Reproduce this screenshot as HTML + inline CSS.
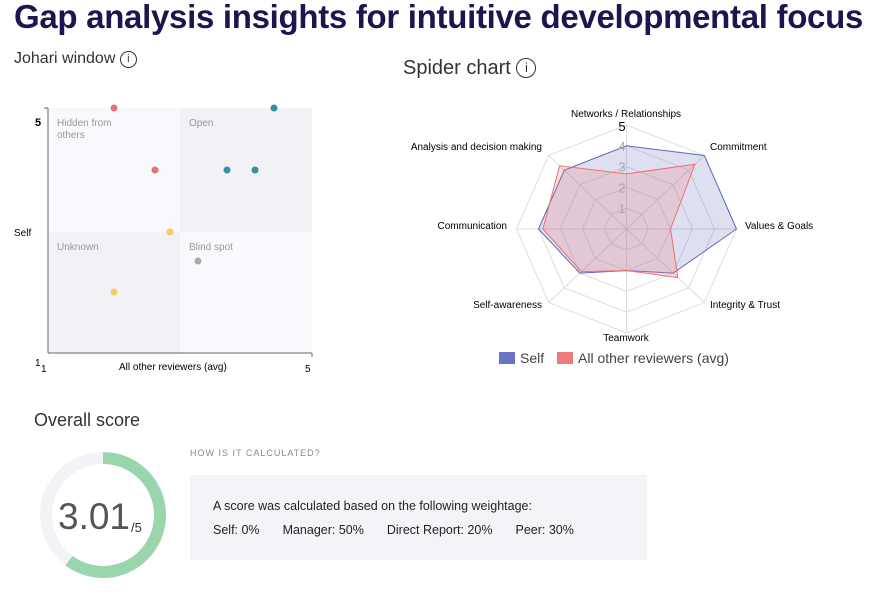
<!DOCTYPE html>
<html><head><style>
body{margin:0;width:880px;height:600px;background:#fff;font-family:"Liberation Sans",sans-serif;position:relative;overflow:hidden}
.t{position:absolute;white-space:nowrap}
</style></head><body>
<div class="t" style="left:14px;top:-2px;font-size:33px;font-weight:bold;color:#1e1550;letter-spacing:-0.3px">Gap analysis insights for intuitive developmental focus</div>
<div class="t" style="left:14px;top:50px;font-size:16px;color:#333">Johari window <span style="display:inline-block;width:15px;height:15px;border:1.5px solid #333;border-radius:50%;font-size:11px;text-align:center;line-height:15px;vertical-align:1px">i</span></div>
<div class="t" style="left:403px;top:57px;font-size:20px;color:#333">Spider chart <span style="display:inline-block;width:18px;height:18px;border:1.8px solid #333;border-radius:50%;font-size:13px;text-align:center;line-height:18px;vertical-align:2px">i</span></div>
<svg width="880" height="600" style="position:absolute;left:0;top:0" font-family="Liberation Sans, sans-serif">
<rect x="48" y="108" width="132" height="124" fill="#f8f9fc"/>
<rect x="180" y="108" width="132" height="124" fill="#f0f2f6"/>
<rect x="48" y="232" width="132" height="121" fill="#f0f2f6"/>
<rect x="180" y="232" width="132" height="121" fill="#f8f9fc"/>
<line x1="48" y1="108" x2="48" y2="353" stroke="#666"/><line x1="48" y1="353" x2="312" y2="353" stroke="#666"/>
<line x1="44" y1="108" x2="48" y2="108" stroke="#666"/><line x1="312" y1="353" x2="312" y2="357" stroke="#666"/>
<g font-size="10" fill="#999"><text x="57" y="126">Hidden from</text><text x="57" y="138">others</text><text x="189" y="126">Open</text><text x="57" y="250">Unknown</text><text x="189" y="250">Blind spot</text></g>
<g font-size="10" fill="#000"><text x="35" y="126" font-size="11" font-weight="bold">5</text><text x="14" y="236">Self</text><text x="35" y="366">1</text><text x="41" y="372">1</text><text x="119" y="370">All other reviewers (avg)</text><text x="305" y="372">5</text></g>
<g><circle cx="114" cy="108" r="3.5" fill="#e87373"/><circle cx="155" cy="170" r="3.5" fill="#e87373"/>
<circle cx="274" cy="108" r="3.5" fill="#3a8d9e"/><circle cx="227" cy="170" r="3.5" fill="#3a8d9e"/><circle cx="255" cy="170" r="3.5" fill="#3a8d9e"/>
<circle cx="170" cy="232" r="3.5" fill="#f8c96a"/><circle cx="114" cy="292" r="3.5" fill="#f8c96a"/><circle cx="198" cy="261" r="3.5" fill="#a9aab5"/></g>
<g id="spider"></g>
<g font-size="10" fill="#000">
<text x="626" y="117" text-anchor="middle">Networks / Relationships</text>
<text x="542" y="150" text-anchor="end">Analysis and decision making</text>
<text x="710" y="150">Commitment</text>
<text x="507" y="229" text-anchor="end">Communication</text>
<text x="745" y="229">Values &amp; Goals</text>
<text x="542" y="308" text-anchor="end">Self-awareness</text>
<text x="710" y="308">Integrity &amp; Trust</text>
<text x="626" y="341" text-anchor="middle">Teamwork</text>
</g>
<rect x="499" y="352" width="16" height="12" fill="#6b74c4"/><text x="520" y="363" font-size="14" fill="#444">Self</text>
<rect x="557" y="352" width="16" height="12" fill="#ee7b7b"/><text x="578" y="363" font-size="14" fill="#444">All other reviewers (avg)</text>
<circle cx="103" cy="515" r="57" fill="none" stroke="#f2f3f7" stroke-width="12"/>
<path id="arc" fill="none" stroke="#9bd5ae" stroke-width="12"/>
<text x="58" y="529" font-size="37" fill="#555">3.01</text><text x="131" y="532" font-size="13" fill="#333">/5</text>
</svg>
<div class="t" style="left:34px;top:410px;font-size:18px;color:#333">Overall score</div>
<div class="t" style="left:190px;top:448px;font-size:9px;color:#888;letter-spacing:1px">HOW IS IT CALCULATED?</div>
<div style="position:absolute;left:190px;top:475px;width:457px;height:85px;background:#f3f4f8"></div>
<div class="t" style="left:213px;top:499px;font-size:12.5px;color:#222">A score was calculated based on the following weightage:</div>
<div class="t" style="left:213px;top:523px;font-size:12.5px;color:#222">Self: 0%<span style="margin-left:23px">Manager: 50%</span><span style="margin-left:23px">Direct Report: 20%</span><span style="margin-left:23px">Peer: 30%</span></div>
<script>
var cx=626.5,cy=229,rx=110,ry=104,g=document.getElementById('spider'),h='';
function pt(i,v){var a=-Math.PI/2+i*Math.PI/4;return [cx+Math.cos(a)*rx*v/5,cy+Math.sin(a)*ry*v/5];}
for(var l=1;l<=5;l++){var p=[];for(var i=0;i<8;i++)p.push(pt(i,l).join(','));h+='<polygon points="'+p.join(' ')+'" fill="none" stroke="#ddd"/>';}
for(var i=0;i<8;i++){var q=pt(i,5);h+='<line x1="'+cx+'" y1="'+cy+'" x2="'+q[0]+'" y2="'+q[1]+'" stroke="#ddd"/>';}
function poly(d,f,s){var p=d.map(function(v,i){return pt(i,v).join(',')});return '<polygon points="'+p.join(' ')+'" fill="'+f+'" stroke="'+s+'" stroke-width="1"/>';}
h+=poly([4,5,5,3,2,3,4,4],'rgba(107,116,196,0.22)','#5f68c0');
h+=poly([2.65,4.4,2,3.3,2,2.9,3.8,4.3],'rgba(238,123,123,0.25)','#ee7070');
[1,2,3,4].forEach(function(v){h+='<text x="622" y="'+(cy-ry*v/5+5)+'" font-size="13" fill="#aaa" text-anchor="middle">'+v+'</text>';});
h+='<text x="622" y="'+(cy-ry+6)+'" font-size="13" fill="#000" text-anchor="middle">5</text>';
g.innerHTML=h;
var r=57,f=0.602,a=-Math.PI/2+f*2*Math.PI;
document.getElementById('arc').setAttribute('d','M103,'+(515-r)+' A'+r+','+r+' 0 1 1 '+(103+r*Math.cos(a))+','+(515+r*Math.sin(a)));
</script>
</body></html>
